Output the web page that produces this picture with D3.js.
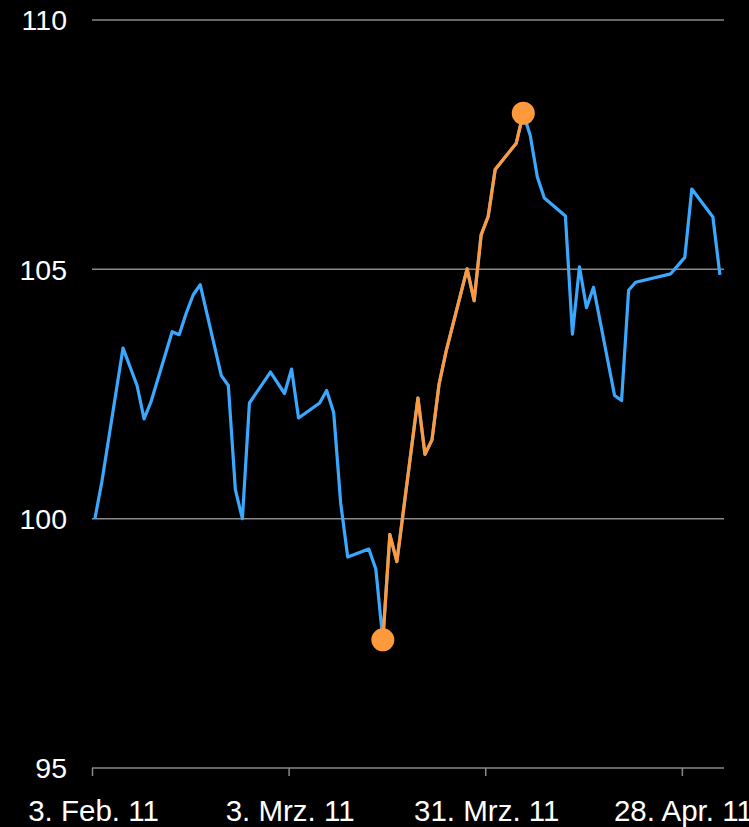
<!DOCTYPE html>
<html>
<head>
<meta charset="utf-8">
<script src="https://cdn.jsdelivr.net/npm/d3@7"></script>
<style>
  html, body { margin: 0; padding: 0; background: #000; overflow: hidden; }
  svg { display: block; }
  text { font-family: "Liberation Sans", Arial, sans-serif; fill: #fff; }
</style>
</head>
<body>
<div id="chart"></div>
<script>
// trading days, Feb - May 2011
var dates = [
  "2011-02-03", "2011-02-04", "2011-02-07", "2011-02-09", "2011-02-10", "2011-02-11",
  "2011-02-14", "2011-02-15", "2011-02-16", "2011-02-17", "2011-02-18",
  "2011-02-21", "2011-02-22", "2011-02-23", "2011-02-24", "2011-02-25",
  "2011-02-28", "2011-03-02", "2011-03-03", "2011-03-04",
  "2011-03-07", "2011-03-08", "2011-03-09", "2011-03-10", "2011-03-11",
  "2011-03-14", "2011-03-15", "2011-03-16", "2011-03-17", "2011-03-18",
  "2011-03-21", "2011-03-22", "2011-03-23", "2011-03-24", "2011-03-25",
  "2011-03-28", "2011-03-29", "2011-03-30", "2011-03-31", "2011-04-01",
  "2011-04-04", "2011-04-05", "2011-04-06", "2011-04-07", "2011-04-08",
  "2011-04-11", "2011-04-12", "2011-04-13", "2011-04-14", "2011-04-15",
  "2011-04-18", "2011-04-19", "2011-04-20", "2011-04-21",
  "2011-04-26", "2011-04-28", "2011-04-29",
  "2011-05-02", "2011-05-03"
];

var values = [
  100.00, 100.75, 103.42, 102.67, 102.00, 102.35,
  103.75, 103.69, 104.12, 104.49, 104.69,
  102.87, 102.67, 100.58, 100.00, 102.32,
  102.94, 102.51, 103.00, 102.02,
  102.32, 102.57, 102.13, 100.31, 99.23,
  99.39, 98.99, 97.57, 99.68, 99.14,
  102.42, 101.29, 101.58, 102.69, 103.35,
  105.01, 104.37, 105.69, 106.06, 107.00,
  107.53, 108.13, 107.68, 106.85, 106.43,
  106.07, 103.70, 105.05, 104.23, 104.64,
  102.47, 102.37, 104.58, 104.74,
  104.91, 105.24, 106.61,
  106.05, 104.89
];

var yTicks = [95, 100, 105, 110];
var xTicks = ["2011-02-03", "2011-03-03", "2011-03-31", "2011-04-28"];
var xDomain = ["2011-02-03", "2011-05-04"];

var width = 749, height = 827;
var margin = { top: 20, right: 25, bottom: 59, left: 92 };

var parse = d3.timeParse("%Y-%m-%d");
var de = d3.timeFormatLocale({
  dateTime: "%A, der %e. %B %Y, %X", date: "%d.%m.%Y", time: "%H:%M:%S",
  periods: ["AM", "PM"],
  days: ["Sonntag", "Montag", "Dienstag", "Mittwoch", "Donnerstag", "Freitag", "Samstag"],
  shortDays: ["So", "Mo", "Di", "Mi", "Do", "Fr", "Sa"],
  months: ["Januar", "Februar", "März", "April", "Mai", "Juni", "Juli", "August", "September", "Oktober", "November", "Dezember"],
  shortMonths: ["Jan", "Feb", "Mrz", "Apr", "Mai", "Jun", "Jul", "Aug", "Sep", "Okt", "Nov", "Dez"]
});
var fmt = de.format("%-d. %b. %y");

// points are stamped mid-morning, ticks at midnight
var data = dates.map(function (d, i) {
  return { date: d3.timeHour.offset(parse(d), 10), value: values[i] };
});

var x = d3.scaleTime()
  .domain(xDomain.map(parse))
  .range([margin.left, width - margin.right]);

var y = d3.scaleLinear()
  .domain([95, 110])
  .range([height - margin.bottom, margin.top]);

var svg = d3.select("#chart").append("svg")
  .attr("width", width)
  .attr("height", height)
  .style("background", "#000");

// grid
svg.append("g")
  .selectAll("line")
  .data(yTicks)
  .join("line")
  .attr("x1", margin.left)
  .attr("x2", width - margin.right)
  .attr("y1", d => y(d))
  .attr("y2", d => y(d))
  .attr("stroke", "#8a8a8a")
  .attr("stroke-width", 1.5);

// y labels
svg.append("g")
  .selectAll("text")
  .data(yTicks)
  .join("text")
  .attr("x", 67)
  .attr("y", d => y(d))
  .attr("dy", "0.36em")
  .attr("text-anchor", "end")
  .style("font-size", "28.5px")
  .text(d => d);

// x axis
var xAxis = svg.append("g")
  .attr("transform", "translate(0," + (height - margin.bottom) + ")")
  .call(d3.axisBottom(x)
    .tickValues(xTicks.map(parse))
    .tickFormat(fmt)
    .tickSize(8)
    .tickPadding(24));

xAxis.select(".domain").remove();
xAxis.selectAll(".tick line").attr("stroke", "#8a8a8a").attr("stroke-width", 1.5);
xAxis.selectAll(".tick text")
  .attr("dx", 1)
  .style("font-size", "29.5px")
  .style("font-family", "'Liberation Sans', Arial, sans-serif")
  .attr("fill", "#fff");

var line = d3.line()
  .x(d => x(d.date))
  .y(d => y(d.value));

var iMin = d3.minIndex(data, d => d.value);
var iMax = d3.maxIndex(data, d => d.value);

svg.append("path")
  .datum(data)
  .attr("d", line)
  .attr("fill", "none")
  .attr("stroke", "#3ba8ff")
  .attr("stroke-width", 3.2)
  .attr("stroke-linejoin", "round");

svg.append("path")
  .datum(data.slice(iMin, iMax + 1))
  .attr("d", line)
  .attr("fill", "none")
  .attr("stroke", "#ff9a3c")
  .attr("stroke-width", 3.2)
  .attr("stroke-linejoin", "round");

svg.append("g")
  .selectAll("circle")
  .data([data[iMin], data[iMax]])
  .join("circle")
  .attr("cx", d => x(d.date))
  .attr("cy", d => y(d.value))
  .attr("r", 11.5)
  .attr("fill", "#ff9a3c");
</script>
</body>
</html>
